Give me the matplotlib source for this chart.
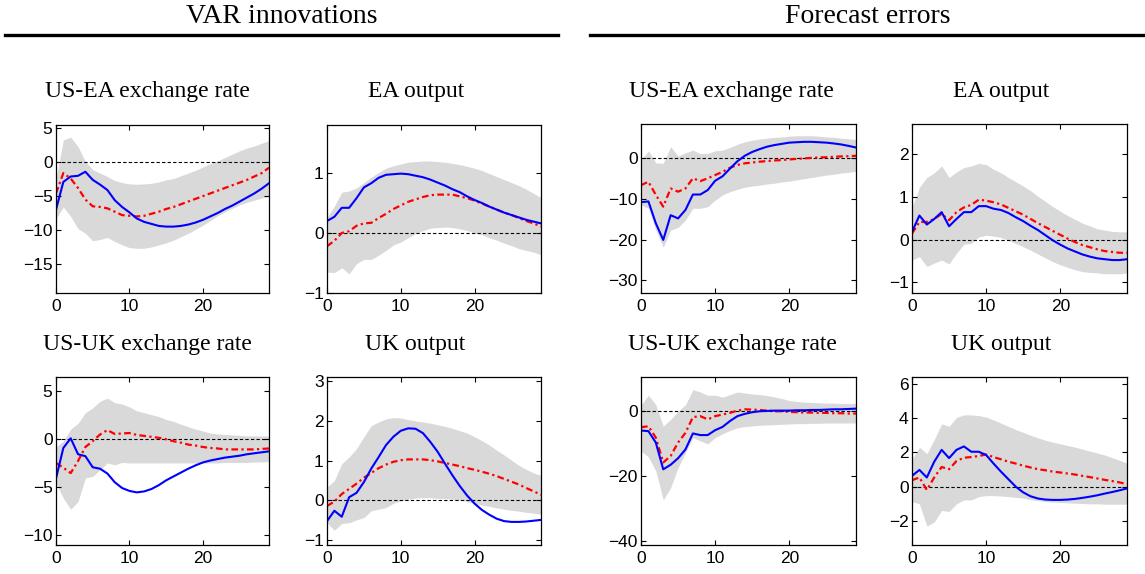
import matplotlib.pyplot as plt
import numpy as np

plt.rcParams['font.family'] = ['Liberation Sans', 'DejaVu Sans']

h = np.arange(30)

# VAR innovations, US-EA exchange rate
var_usea_blue = [-7.0, -2.9, -2.1, -2.0, -1.4, -2.6, -3.3, -4.1, -5.6, -6.6, -7.4, -8.3, -8.8, -9.1, -9.4,
                 -9.5, -9.5, -9.4, -9.2, -8.9, -8.5, -8.0, -7.5, -6.9, -6.4, -5.8, -5.2, -4.6, -3.9, -3.1]
var_usea_red = [-4.6, -1.6, -2.4, -3.8, -5.5, -6.5, -6.6, -6.8, -7.3, -7.8, -7.9, -8.0, -7.9, -7.6, -7.3,
                -6.9, -6.6, -6.2, -5.8, -5.4, -5.0, -4.6, -4.2, -3.8, -3.4, -3.0, -2.6, -2.1, -1.6, -0.8]
var_usea_hi = [-2.5, 3.3, 3.7, 2.3, 0.1, -1.1, -1.6, -2.1, -2.7, -3.0, -3.2, -3.25, -3.2, -3.1, -2.9,
               -2.6, -2.4, -2.0, -1.6, -1.2, -0.7, -0.2, 0.2, 0.7, 1.2, 1.7, 2.1, 2.4, 2.8, 3.2]
var_usea_lo = [-8.3, -6.6, -8.0, -9.8, -10.5, -11.6, -11.4, -11.1, -11.7, -12.2, -12.6, -12.7, -12.7, -12.5, -12.2,
               -11.9, -11.5, -11.0, -10.5, -9.9, -9.3, -8.6, -7.9, -7.3, -6.8, -6.3, -5.9, -5.6, -5.3, -5.0]

# VAR innovations, EA output
var_ea_blue = [0.2, 0.27, 0.42, 0.42, 0.58, 0.76, 0.83, 0.92, 0.97, 0.98, 0.99, 0.98, 0.955, 0.93, 0.89,
               0.84, 0.79, 0.73, 0.68, 0.61, 0.55, 0.5, 0.44, 0.39, 0.34, 0.3, 0.26, 0.22, 0.19, 0.16]
var_ea_red = [-0.22, -0.13, 0.0, 0.03, 0.12, 0.16, 0.17, 0.25, 0.32, 0.4, 0.46, 0.52, 0.56, 0.6, 0.63,
              0.64, 0.64, 0.64, 0.61, 0.58, 0.54, 0.49, 0.44, 0.39, 0.34, 0.3, 0.25, 0.2, 0.16, 0.11]
var_ea_hi = [0.26, 0.45, 0.68, 0.7, 0.75, 0.84, 0.93, 1.01, 1.08, 1.12, 1.15, 1.18, 1.19, 1.2, 1.2,
             1.19, 1.18, 1.16, 1.14, 1.11, 1.08, 1.04, 0.99, 0.94, 0.89, 0.84, 0.79, 0.73, 0.66, 0.59]
var_ea_lo = [-0.65, -0.66, -0.58, -0.68, -0.51, -0.44, -0.44, -0.37, -0.29, -0.2, -0.15, -0.08, -0.01, 0.04, 0.08,
             0.09, 0.1, 0.09, 0.07, 0.04, 0.0, -0.03, -0.08, -0.12, -0.17, -0.21, -0.26, -0.29, -0.32, -0.36]

# Forecast errors, US-EA exchange rate
fe_usea_blue = [-10.8, -10.6, -16.0, -20.1, -14.0, -14.8, -12.7, -8.9, -8.9, -7.8, -5.5, -4.4, -2.5, -0.7, 0.66,
                1.6, 2.3, 2.9, 3.3, 3.6, 3.9, 4.0, 4.1, 4.1, 4.0, 3.9, 3.7, 3.45, 3.1, 2.7]
fe_usea_red = [-6.6, -5.75, -9.0, -11.9, -7.4, -8.2, -7.4, -4.9, -5.6, -4.9, -4.1, -3.3, -2.3, -1.6, -1.2,
               -1.0, -0.8, -0.65, -0.5, -0.4, -0.25, -0.1, 0.0, 0.15, 0.25, 0.3, 0.4, 0.5, 0.55, 0.65]
fe_usea_hi = [-0.4, 1.9, -1.1, -1.2, 2.9, 0.6, 1.4, 2.05, 1.2, 1.2, 1.9, 2.05, 2.7, 3.5, 4.1,
              4.5, 4.8, 5.0, 5.2, 5.3, 5.5, 5.6, 5.6, 5.6, 5.5, 5.3, 5.2, 5.0, 4.85, 4.7]
fe_usea_lo = [-11.5, -12.3, -17.7, -21.9, -17.7, -17.0, -15.2, -12.3, -12.3, -11.9, -10.3, -9.0, -8.2, -7.6, -7.1,
              -6.8, -6.6, -6.3, -6.1, -5.8, -5.6, -5.3, -5.0, -4.7, -4.4, -4.1, -3.9, -3.6, -3.4, -3.2]

# Forecast errors, EA output
fe_ea_blue = [0.18, 0.56, 0.35, 0.48, 0.64, 0.31, 0.48, 0.64, 0.64, 0.78, 0.78, 0.72, 0.69, 0.62, 0.52,
              0.43, 0.32, 0.22, 0.1, -0.02, -0.12, -0.21, -0.28, -0.35, -0.4, -0.44, -0.46, -0.48, -0.48, -0.46]
fe_ea_red = [0.14, 0.41, 0.41, 0.48, 0.6, 0.45, 0.64, 0.75, 0.81, 0.93, 0.91, 0.87, 0.82, 0.74, 0.66,
             0.58, 0.48, 0.38, 0.29, 0.2, 0.11, 0.02, -0.06, -0.13, -0.18, -0.23, -0.27, -0.29, -0.31, -0.31]
fe_ea_hi = [0.75, 1.22, 1.45, 1.56, 1.72, 1.45, 1.58, 1.68, 1.72, 1.78, 1.75, 1.64, 1.56, 1.45, 1.35,
            1.25, 1.14, 1.01, 0.89, 0.77, 0.66, 0.56, 0.47, 0.38, 0.32, 0.25, 0.22, 0.19, 0.18, 0.18]
fe_ea_lo = [-0.48, -0.4, -0.63, -0.55, -0.48, -0.57, -0.32, -0.11, -0.09, 0.06, 0.1, 0.08, 0.05, -0.02, -0.09,
            -0.17, -0.25, -0.34, -0.43, -0.52, -0.59, -0.65, -0.71, -0.75, -0.77, -0.78, -0.8, -0.8, -0.8, -0.78]

# VAR innovations, US-UK exchange rate
var_usuk_blue = [-4.1, -0.95, 0.05, -1.6, -1.8, -2.95, -3.1, -3.6, -4.5, -5.1, -5.4, -5.55, -5.45, -5.2, -4.8,
                 -4.3, -3.9, -3.5, -3.1, -2.75, -2.45, -2.25, -2.1, -1.95, -1.85, -1.75, -1.6, -1.5, -1.4, -1.3]
var_usuk_red = [-2.5, -3.0, -3.55, -2.3, -0.85, -0.25, 0.45, 0.9, 0.5, 0.55, 0.6, 0.4, 0.3, 0.2, 0.1,
                -0.05, -0.25, -0.4, -0.6, -0.7, -0.85, -0.95, -1.0, -1.1, -1.1, -1.1, -1.1, -1.1, -1.05, -1.0]
var_usuk_hi = [-0.8, -0.25, 1.0, 1.6, 2.7, 3.2, 3.9, 4.2, 3.75, 3.6, 3.3, 2.9, 2.7, 2.5, 2.3,
               2.0, 1.8, 1.5, 1.25, 1.0, 0.8, 0.6, 0.5, 0.45, 0.4, 0.35, 0.3, 0.3, 0.3, 0.3]
var_usuk_lo = [-4.6, -6.15, -7.3, -6.5, -4.05, -3.9, -3.2, -2.5, -2.7, -2.45, -2.5, -2.5, -2.5, -2.5, -2.5,
               -2.5, -2.5, -2.5, -2.5, -2.5, -2.5, -2.5, -2.5, -2.45, -2.45, -2.45, -2.45, -2.4, -2.4, -2.35]

# VAR innovations, UK output
var_uk_blue = [-0.52, -0.26, -0.41, 0.08, 0.19, 0.46, 0.8, 1.09, 1.39, 1.6, 1.75, 1.81, 1.8, 1.69, 1.47,
               1.22, 0.92, 0.63, 0.36, 0.12, -0.08, -0.24, -0.36, -0.46, -0.52, -0.54, -0.54, -0.53, -0.51, -0.49]
var_uk_red = [-0.14, -0.03, 0.16, 0.29, 0.42, 0.57, 0.69, 0.81, 0.9, 0.97, 1.01, 1.03, 1.03, 1.03, 1.01,
              0.98, 0.94, 0.9, 0.86, 0.81, 0.77, 0.72, 0.67, 0.61, 0.54, 0.47, 0.4, 0.31, 0.23, 0.14]
var_uk_hi = [0.33, 0.5, 0.92, 1.09, 1.3, 1.6, 1.88, 1.97, 2.05, 2.08, 2.07, 2.03, 2.0, 1.97, 1.94,
             1.9, 1.86, 1.81, 1.75, 1.69, 1.6, 1.5, 1.39, 1.26, 1.14, 1.01, 0.88, 0.78, 0.69, 0.63]
var_uk_lo = [-0.56, -0.75, -0.58, -0.56, -0.49, -0.43, -0.26, -0.22, -0.18, -0.07, -0.01, 0.03, 0.06, 0.07, 0.07,
             0.05, 0.05, 0.03, 0.01, -0.03, -0.08, -0.12, -0.15, -0.19, -0.22, -0.25, -0.27, -0.3, -0.32, -0.35]

# Forecast errors, US-UK exchange rate
fe_usuk_blue = [-6.1, -6.3, -9.8, -18.0, -16.6, -14.6, -11.9, -7.0, -7.5, -7.5, -6.0, -5.0, -3.2, -1.7, -1.0,
                -0.5, -0.2, -0.1, 0.0, 0.0, 0.0, 0.1, 0.1, 0.2, 0.2, 0.3, 0.4, 0.4, 0.5, 0.6]
fe_usuk_red = [-5.1, -4.8, -8.3, -15.9, -13.9, -9.8, -6.8, -2.0, -1.7, -2.7, -1.7, -1.2, -0.7, 0.0, 0.4,
               0.3, 0.2, 0.0, -0.2, -0.2, -0.4, -0.5, -0.6, -0.6, -0.7, -0.7, -0.8, -0.8, -0.9, -0.9]
fe_usuk_hi = [1.8, 4.7, 1.8, -4.8, -2.7, -0.2, 1.8, 6.4, 5.7, 4.7, 4.7, 4.1, 4.9, 5.7, 5.4,
              5.1, 4.9, 4.6, 4.2, 3.7, 3.1, 2.8, 2.6, 2.5, 2.4, 2.3, 2.3, 2.2, 2.2, 2.2]
fe_usuk_lo = [-12.4, -14.2, -18.5, -27.4, -23.6, -17.5, -12.9, -8.3, -9.3, -10.2, -8.3, -7.1, -6.1, -5.3, -4.9,
              -4.7, -4.5, -4.4, -4.3, -4.2, -4.1, -4.0, -4.0, -3.9, -3.9, -3.8, -3.8, -3.8, -3.8, -3.8]

# Forecast errors, UK output
fe_uk_blue = [0.63, 0.98, 0.54, 1.46, 2.15, 1.67, 2.15, 2.35, 2.04, 2.04, 1.85, 1.35, 0.88, 0.44, 0.0,
              -0.33, -0.56, -0.69, -0.75, -0.77, -0.77, -0.75, -0.71, -0.65, -0.58, -0.5, -0.4, -0.31, -0.21, -0.1]
fe_uk_red = [0.38, 0.54, -0.19, 0.54, 1.15, 1.02, 1.5, 1.69, 1.73, 1.79, 1.88, 1.73, 1.6, 1.46, 1.35,
             1.23, 1.12, 1.02, 0.96, 0.88, 0.83, 0.77, 0.71, 0.63, 0.56, 0.48, 0.4, 0.33, 0.25, 0.15]
fe_uk_hi = [1.6, 2.31, 1.92, 2.75, 3.67, 3.52, 4.04, 4.19, 4.19, 4.15, 4.06, 3.9, 3.71, 3.52, 3.33,
            3.17, 3.0, 2.85, 2.71, 2.6, 2.5, 2.4, 2.31, 2.19, 2.08, 1.96, 1.85, 1.69, 1.54, 1.38]
fe_uk_lo = [-0.87, -1.0, -2.29, -2.06, -1.38, -1.44, -1.0, -0.77, -0.77, -0.58, -0.52, -0.52, -0.54, -0.58, -0.62,
            -0.67, -0.75, -0.81, -0.87, -0.9, -0.92, -0.94, -0.96, -0.98, -1.0, -1.0, -1.02, -1.02, -1.02, -1.02]

W, H = 1145, 574
fig = plt.figure(figsize=(W / 100, H / 100), dpi=100)


def panel(box, blue, red, lo, hi, ylim, yticks):
    l, r, t, b = box
    ax = fig.add_axes([l / W, 1 - b / H, (r - l) / W, (b - t) / H])
    ax.fill_between(h, lo, hi, color='#d9d9d9', lw=0)
    ax.axhline(0, color='k', ls=(0, (3, 2)), lw=0.8)
    ax.plot(h, red, color='r', ls=(0, (3, 1.5, 1, 1.5)), lw=1.6)
    ax.plot(h, blue, color='b', lw=1.5)
    ax.set_xlim(0, 29)
    ax.set_ylim(*ylim)
    ax.set_xticks([0, 10, 20])
    ax.set_yticks(yticks)
    ax.set_yticklabels([str(v).replace('-', '\u2212') for v in yticks])
    ax.tick_params(direction='in', top=True, right=True, length=3.5, labelsize=12.5, pad=2.5)
    ax.tick_params(axis='x', pad=4)
    for s in ax.spines.values():
        s.set_linewidth(0.9)
    return ax


panel((56, 269, 125, 293), var_usea_blue, var_usea_red, var_usea_lo, var_usea_hi, (-19.3, 5.5), [5, 0, -5, -10, -15])
panel((327, 541, 125, 293), var_ea_blue, var_ea_red, var_ea_lo, var_ea_hi, (-1.0, 1.8), [1, 0, -1])
panel((641, 856, 124, 293), fe_usea_blue, fe_usea_red, fe_usea_lo, fe_usea_hi, (-33.2, 8.5), [0, -10, -20, -30])
panel((912, 1127, 124, 293), fe_ea_blue, fe_ea_red, fe_ea_lo, fe_ea_hi, (-1.25, 2.7), [2, 1, 0, -1])
panel((56, 269, 377, 545), var_usuk_blue, var_usuk_red, var_usuk_lo, var_usuk_hi, (-11.0, 6.4), [5, 0, -5, -10])
panel((327, 541, 377, 545), var_uk_blue, var_uk_red, var_uk_lo, var_uk_hi, (-1.12, 3.1), [3, 2, 1, 0, -1])
panel((641, 856, 377, 545), fe_usuk_blue, fe_usuk_red, fe_usuk_lo, fe_usuk_hi, (-41.2, 10.3), [0, -20, -40])
panel((912, 1127, 377, 545), fe_uk_blue, fe_uk_red, fe_uk_lo, fe_uk_hi, (-3.4, 6.4), [6, 4, 2, 0, -2])

serif = ['Liberation Serif', 'DejaVu Serif']
titles = [(147, 97, 'US-EA exchange rate'), (416, 97, 'EA output'),
          (731, 97, 'US-EA exchange rate'), (1001, 97, 'EA output'),
          (147, 350, 'US-UK exchange rate'), (415, 350, 'UK output'),
          (732, 350, 'US-UK exchange rate'), (1001, 350, 'UK output')]
for x, y, s in titles:
    fig.text(x / W, 1 - y / H, s, ha='center', va='baseline', family=serif, fontsize=17)

fig.text(282 / W, 1 - 23 / H, 'VAR innovations', ha='center', va='baseline', family=serif, fontsize=20)
fig.text(868 / W, 1 - 23 / H, 'Forecast errors', ha='center', va='baseline', family=serif, fontsize=20)
fig.add_artist(plt.Line2D([5 / W, 558 / W], [1 - 34.5 / H] * 2, color='k', lw=2.4))
fig.add_artist(plt.Line2D([590 / W, 1145 / W], [1 - 34.5 / H] * 2, color='k', lw=2.4))

fig.savefig('out.png', dpi=100)
